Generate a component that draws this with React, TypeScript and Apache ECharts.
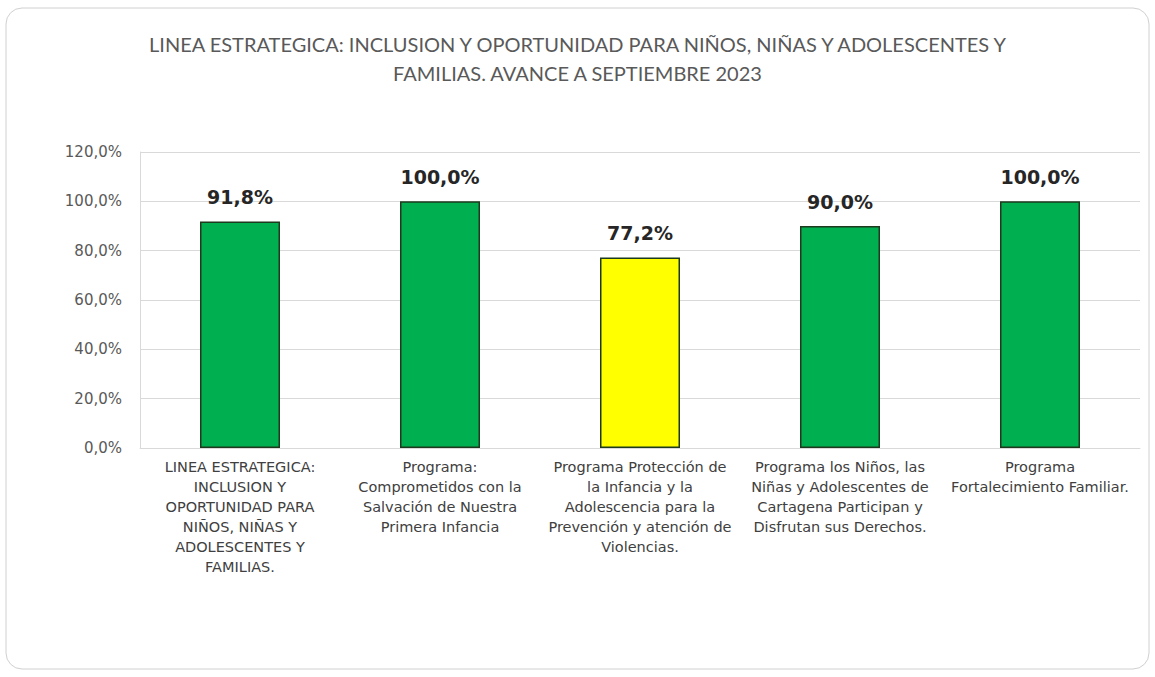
import React, { useEffect, useRef } from "react";
import * as echarts from "echarts";

const titleText =
  "LINEA ESTRATEGICA: INCLUSION Y OPORTUNIDAD PARA NIÑOS, NIÑAS Y ADOLESCENTES Y\nFAMILIAS. AVANCE A SEPTIEMBRE 2023";

const categories = [
  "LINEA ESTRATEGICA:\nINCLUSION Y\nOPORTUNIDAD PARA\nNIÑOS, NIÑAS Y\nADOLESCENTES Y\nFAMILIAS.",
  "Programa:\nComprometidos con la\nSalvación de Nuestra\nPrimera Infancia",
  "Programa Protección de\nla Infancia y la\nAdolescencia para la\nPrevención y atención de\nViolencias.",
  "Programa los Niños, las\nNiñas y Adolescentes de\nCartagena Participan y\nDisfrutan sus Derechos.",
  "Programa\nFortalecimiento Familiar.",
];

const values = [91.8, 100.0, 77.2, 90.0, 100.0];
const barColors = ["#00B050", "#00B050", "#FFFF00", "#00B050", "#00B050"];

const yMin = 0;
const yMax = 120;
const yInterval = 20;

const fmt = (v: number) => v.toFixed(1).replace(".", ",") + "%";

export default function App() {
  const ref = useRef<HTMLDivElement>(null);
  useEffect(() => {
    if (!ref.current) return;
    const chart = echarts.init(ref.current, null, { renderer: "svg" });
    chart.setOption({
      animation: false,
      backgroundColor: "#ffffff",
      textStyle: { fontFamily: "Lato" },
      graphic: [
        {
          type: "rect",
          shape: { x: 6, y: 8, width: 1143, height: 661, r: 16 },
          style: { fill: "#ffffff", stroke: "#d0d0d0", lineWidth: 1 },
          z: -10,
        },
      ],
      title: {
        text: titleText,
        left: "center",
        top: 24,
        textStyle: {
          fontFamily: "Lato",
          fontSize: 20,
          fontWeight: "normal",
          color: "#595959",
          lineHeight: 29,
        },
      },
      grid: { left: 140, right: 15, top: 152, bottom: 229, containLabel: false },
      xAxis: {
        type: "category",
        data: categories,
        axisLine: { show: true, lineStyle: { color: "#d9d9d9" } },
        axisTick: { show: false },
        axisLabel: {
          interval: 0,
          margin: 9,
          fontFamily: "DejaVu Sans",
          fontSize: 14.5,
          color: "#404040",
          lineHeight: 20,
          align: "center",
          verticalAlign: "top",
        },
      },
      yAxis: {
        type: "value",
        min: yMin,
        max: yMax,
        interval: yInterval,
        axisLine: { show: true, lineStyle: { color: "#d9d9d9" } },
        axisTick: { show: false },
        splitLine: { show: true, lineStyle: { color: "#d9d9d9" } },
        axisLabel: {
          margin: 18,
          fontFamily: "DejaVu Sans",
          fontSize: 15,
          color: "#595959",
          formatter: (v: number) => fmt(v),
        },
      },
      series: [
        {
          type: "bar",
          barWidth: 80,
          data: values.map((v, i) => ({
            value: v,
            itemStyle: { color: barColors[i], borderColor: "#1e3a1e", borderWidth: 1.5 },
          })),
          label: {
            show: true,
            position: "top",
            distance: 15,
            fontFamily: "DejaVu Sans",
            fontSize: 19,
            fontWeight: "bold",
            color: "#262626",
            formatter: (p: any) => fmt(p.value),
          },
        },
      ],
    });
    return () => chart.dispose();
  }, []);
  return (
    <div
      ref={ref}
      style={{ position: "fixed", left: 0, top: 0, width: 1155, height: 677 }}
    />
  );
}
